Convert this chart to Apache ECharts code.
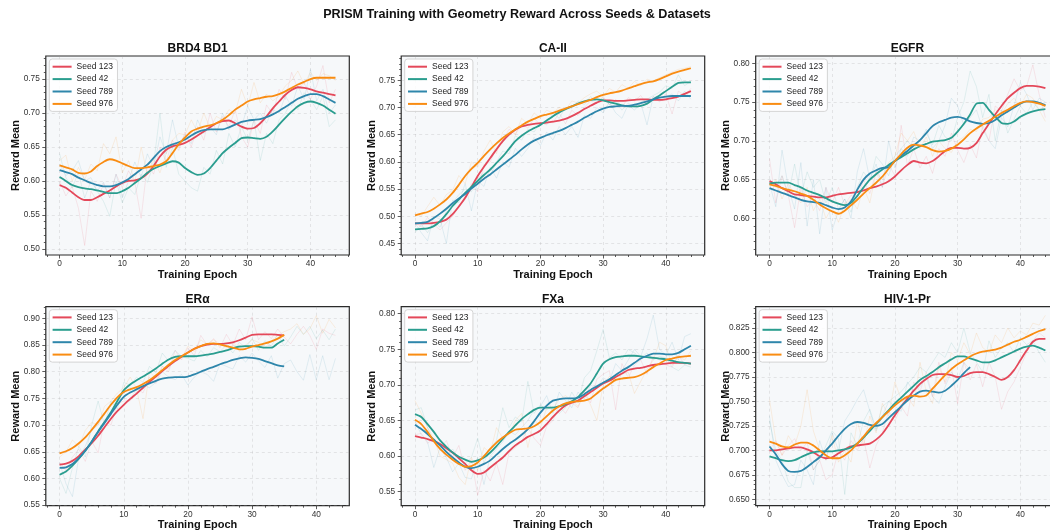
<!DOCTYPE html>
<html>
<head>
<meta charset="utf-8">
<script src="https://cdn.jsdelivr.net/npm/echarts@6/dist/echarts.min.js"></script>
<style>html,body{margin:0;padding:0;background:#fff}#chart{width:1050px;height:531px}</style>
</head>
<body>
<div id="chart"></div>
<script>
// ---------------- DATA ----------------
const mainTitle = 'PRISM Training with Geometry Reward Across Seeds & Datasets';
const seedNames = ['Seed 123', 'Seed 42', 'Seed 789', 'Seed 976'];
const panelTitles = ['BRD4 BD1', 'CA-II', 'EGFR', 'ERα', 'FXa', 'HIV-1-Pr'];
const xTicks = [0, 10, 20, 30, 40];
const brd4YTicks = [0.50, 0.55, 0.60, 0.65, 0.70, 0.75];
const ca2YTicks = [0.45, 0.50, 0.55, 0.60, 0.65, 0.70, 0.75];
const egfrYTicks = [0.60, 0.65, 0.70, 0.75, 0.80];
const eraYTicks = [0.55, 0.60, 0.65, 0.70, 0.75, 0.80, 0.85, 0.90];
const fxaYTicks = [0.55, 0.60, 0.65, 0.70, 0.75, 0.80];
const hivYTicks = [0.650, 0.675, 0.700, 0.725, 0.750, 0.775, 0.800, 0.825];

// BRD4 BD1
const brd4Smooth123 = [0.594,0.590,0.583,0.576,0.572,0.572,0.576,0.581,0.586,0.592,0.597,0.600,0.601,0.604,0.611,0.622,0.636,0.646,0.651,0.653,0.656,0.661,0.667,0.673,0.679,0.685,0.688,0.689,0.685,0.680,0.677,0.678,0.685,0.695,0.707,0.717,0.727,0.734,0.738,0.737,0.735,0.732,0.730,0.728,0.726];
const brd4Smooth42 = [0.606,0.600,0.594,0.591,0.589,0.588,0.586,0.584,0.582,0.582,0.585,0.590,0.597,0.604,0.612,0.618,0.622,0.626,0.629,0.627,0.619,0.613,0.609,0.611,0.619,0.630,0.641,0.649,0.656,0.663,0.664,0.663,0.662,0.665,0.673,0.683,0.693,0.702,0.710,0.715,0.717,0.715,0.711,0.705,0.699];
const brd4Smooth789 = [0.616,0.613,0.610,0.605,0.601,0.597,0.594,0.592,0.592,0.594,0.598,0.603,0.610,0.617,0.624,0.634,0.644,0.650,0.654,0.657,0.661,0.667,0.672,0.675,0.676,0.676,0.676,0.679,0.683,0.687,0.689,0.690,0.691,0.694,0.698,0.703,0.709,0.715,0.721,0.725,0.728,0.728,0.725,0.720,0.715];
const brd4Smooth976 = [0.623,0.620,0.617,0.612,0.611,0.614,0.622,0.628,0.632,0.630,0.626,0.622,0.619,0.619,0.620,0.622,0.624,0.629,0.641,0.654,0.664,0.673,0.677,0.680,0.682,0.685,0.690,0.697,0.705,0.711,0.717,0.720,0.722,0.724,0.725,0.728,0.732,0.737,0.742,0.746,0.750,0.752,0.752,0.752,0.752];
const brd4Raw123 = [0.600,0.578,0.592,0.560,0.505,0.585,0.570,0.596,0.575,0.610,0.590,0.615,0.598,0.545,0.625,0.610,0.650,0.628,0.660,0.645,0.672,0.650,0.680,0.660,0.700,0.672,0.695,0.680,0.705,0.665,0.650,0.690,0.670,0.712,0.698,0.735,0.720,0.760,0.735,0.745,0.720,0.740,0.770,0.715,0.735];
const brd4Raw42 = [0.640,0.605,0.590,0.612,0.575,0.600,0.585,0.570,0.548,0.600,0.568,0.590,0.580,0.610,0.598,0.625,0.700,0.620,0.650,0.610,0.600,0.590,0.585,0.620,0.610,0.645,0.625,0.670,0.650,0.680,0.660,0.690,0.630,0.670,0.655,0.690,0.700,0.718,0.705,0.730,0.720,0.705,0.725,0.680,0.690];
const brd4Raw789 = [0.625,0.608,0.615,0.630,0.600,0.605,0.585,0.598,0.575,0.610,0.575,0.600,0.628,0.605,0.640,0.620,0.665,0.640,0.690,0.650,0.668,0.655,0.690,0.670,0.680,0.668,0.700,0.675,0.690,0.680,0.710,0.690,0.700,0.685,0.705,0.700,0.725,0.710,0.740,0.720,0.764,0.718,0.735,0.700,0.712];
const brd4Raw976 = [0.630,0.638,0.600,0.620,0.602,0.625,0.615,0.655,0.640,0.665,0.612,0.630,0.598,0.650,0.610,0.632,0.612,0.640,0.660,0.670,0.668,0.690,0.672,0.700,0.678,0.695,0.690,0.705,0.700,0.735,0.710,0.745,0.715,0.728,0.718,0.725,0.740,0.748,0.762,0.742,0.760,0.748,0.758,0.755,0.748];

// CA-II
const ca2Smooth123 = [0.487,0.487,0.487,0.488,0.490,0.494,0.504,0.518,0.534,0.554,0.574,0.591,0.607,0.623,0.638,0.650,0.659,0.665,0.668,0.670,0.671,0.672,0.674,0.676,0.679,0.684,0.690,0.697,0.703,0.709,0.713,0.713,0.712,0.712,0.713,0.714,0.715,0.715,0.714,0.714,0.715,0.717,0.720,0.725,0.730];
const ca2Smooth42 = [0.476,0.477,0.478,0.482,0.491,0.504,0.519,0.531,0.543,0.554,0.565,0.576,0.586,0.598,0.610,0.624,0.638,0.648,0.656,0.662,0.668,0.676,0.684,0.691,0.697,0.702,0.707,0.711,0.714,0.715,0.713,0.710,0.707,0.704,0.702,0.702,0.703,0.707,0.715,0.722,0.730,0.738,0.745,0.746,0.746];
const ca2Smooth789 = [0.487,0.488,0.490,0.497,0.505,0.514,0.524,0.533,0.541,0.551,0.560,0.569,0.577,0.586,0.595,0.604,0.613,0.623,0.632,0.639,0.644,0.649,0.653,0.657,0.662,0.668,0.674,0.681,0.687,0.693,0.698,0.701,0.702,0.703,0.703,0.705,0.708,0.711,0.715,0.718,0.720,0.721,0.721,0.721,0.721];
const ca2Smooth976 = [0.502,0.505,0.508,0.514,0.522,0.531,0.543,0.558,0.574,0.587,0.598,0.611,0.623,0.634,0.644,0.652,0.660,0.667,0.674,0.679,0.684,0.687,0.690,0.694,0.698,0.702,0.706,0.710,0.714,0.719,0.723,0.726,0.728,0.731,0.735,0.739,0.743,0.746,0.748,0.752,0.757,0.762,0.766,0.769,0.772];
const ca2Raw123 = [0.490,0.480,0.498,0.485,0.475,0.488,0.500,0.520,0.530,0.560,0.545,0.595,0.600,0.625,0.640,0.660,0.650,0.670,0.662,0.680,0.668,0.675,0.672,0.690,0.670,0.695,0.685,0.700,0.712,0.708,0.720,0.705,0.715,0.700,0.718,0.712,0.722,0.705,0.720,0.710,0.725,0.688,0.730,0.722,0.735];
const ca2Raw42 = [0.470,0.485,0.470,0.490,0.480,0.510,0.525,0.540,0.550,0.545,0.570,0.580,0.575,0.600,0.620,0.615,0.648,0.640,0.660,0.655,0.672,0.668,0.690,0.680,0.700,0.698,0.712,0.705,0.720,0.710,0.718,0.705,0.712,0.695,0.708,0.700,0.710,0.715,0.722,0.728,0.740,0.735,0.760,0.740,0.748];
const ca2Raw789 = [0.488,0.470,0.455,0.500,0.495,0.450,0.530,0.525,0.560,0.510,0.565,0.555,0.590,0.570,0.600,0.590,0.625,0.610,0.625,0.645,0.630,0.655,0.640,0.665,0.650,0.665,0.645,0.685,0.680,0.700,0.690,0.710,0.690,0.680,0.705,0.695,0.708,0.668,0.720,0.712,0.718,0.725,0.712,0.730,0.715];
const ca2Raw976 = [0.505,0.500,0.518,0.535,0.520,0.540,0.548,0.575,0.560,0.600,0.590,0.620,0.640,0.615,0.655,0.665,0.650,0.680,0.670,0.690,0.680,0.695,0.690,0.700,0.695,0.712,0.708,0.718,0.725,0.730,0.720,0.735,0.728,0.742,0.735,0.748,0.740,0.752,0.748,0.755,0.760,0.765,0.770,0.772,0.775];

// EGFR
const egfrSmooth123 = [0.648,0.644,0.639,0.635,0.631,0.630,0.629,0.628,0.627,0.627,0.629,0.631,0.632,0.633,0.634,0.636,0.639,0.641,0.644,0.648,0.654,0.662,0.669,0.674,0.672,0.671,0.674,0.680,0.687,0.691,0.691,0.690,0.691,0.697,0.710,0.722,0.734,0.745,0.755,0.762,0.768,0.771,0.771,0.770,0.768];
const egfrSmooth42 = [0.645,0.646,0.646,0.646,0.643,0.640,0.636,0.633,0.630,0.626,0.622,0.619,0.617,0.620,0.629,0.640,0.650,0.657,0.663,0.669,0.674,0.679,0.684,0.689,0.693,0.696,0.699,0.700,0.701,0.704,0.712,0.722,0.734,0.748,0.749,0.740,0.731,0.723,0.722,0.725,0.731,0.735,0.738,0.740,0.741];
const egfrSmooth789 = [0.639,0.636,0.633,0.630,0.627,0.624,0.622,0.621,0.620,0.617,0.614,0.612,0.614,0.622,0.637,0.650,0.658,0.662,0.665,0.666,0.674,0.681,0.687,0.694,0.701,0.710,0.719,0.724,0.727,0.730,0.731,0.729,0.725,0.723,0.722,0.723,0.727,0.733,0.738,0.743,0.748,0.751,0.751,0.749,0.746];
const egfrSmooth976 = [0.644,0.642,0.639,0.637,0.635,0.632,0.629,0.624,0.618,0.613,0.609,0.606,0.610,0.617,0.624,0.632,0.639,0.646,0.654,0.664,0.674,0.683,0.691,0.695,0.694,0.692,0.688,0.686,0.687,0.690,0.695,0.702,0.710,0.716,0.721,0.726,0.731,0.736,0.740,0.745,0.749,0.751,0.750,0.748,0.745];
const egfrRaw123 = [0.677,0.620,0.655,0.630,0.588,0.640,0.615,0.625,0.610,0.640,0.620,0.640,0.618,0.630,0.625,0.650,0.632,0.660,0.640,0.670,0.655,0.720,0.668,0.690,0.665,0.680,0.658,0.690,0.680,0.710,0.688,0.672,0.695,0.678,0.720,0.700,0.745,0.738,0.760,0.780,0.765,0.770,0.798,0.760,0.730];
const egfrRaw42 = [0.650,0.640,0.655,0.630,0.670,0.628,0.660,0.640,0.650,0.620,0.640,0.612,0.625,0.608,0.640,0.660,0.648,0.680,0.670,0.655,0.680,0.690,0.700,0.690,0.700,0.710,0.695,0.720,0.705,0.700,0.730,0.750,0.790,0.770,0.730,0.760,0.700,0.740,0.710,0.728,0.745,0.735,0.750,0.740,0.745];
const egfrRaw789 = [0.645,0.615,0.688,0.640,0.612,0.672,0.590,0.650,0.580,0.640,0.585,0.610,0.625,0.600,0.660,0.690,0.650,0.670,0.640,0.700,0.665,0.690,0.680,0.705,0.700,0.715,0.690,0.700,0.720,0.755,0.745,0.720,0.730,0.740,0.715,0.700,0.690,0.730,0.718,0.745,0.775,0.760,0.740,0.755,0.750];
const egfrRaw976 = [0.640,0.650,0.625,0.645,0.630,0.620,0.640,0.610,0.625,0.600,0.615,0.595,0.618,0.625,0.612,0.640,0.620,0.660,0.650,0.672,0.680,0.710,0.700,0.712,0.690,0.705,0.680,0.700,0.690,0.685,0.700,0.705,0.715,0.712,0.728,0.730,0.740,0.735,0.748,0.755,0.745,0.760,0.755,0.740,0.725];

// ERα
const eraSmooth123 = [0.626,0.628,0.633,0.642,0.654,0.666,0.680,0.696,0.712,0.726,0.738,0.749,0.759,0.770,0.781,0.791,0.801,0.811,0.820,0.828,0.836,0.843,0.848,0.851,0.852,0.852,0.853,0.855,0.859,0.864,0.869,0.870,0.870,0.870,0.869,0.868];
const eraSmooth42 = [0.607,0.613,0.624,0.637,0.652,0.669,0.688,0.706,0.724,0.745,0.765,0.776,0.784,0.791,0.798,0.806,0.815,0.823,0.828,0.829,0.829,0.829,0.830,0.832,0.834,0.837,0.840,0.844,0.847,0.848,0.848,0.847,0.845,0.845,0.853,0.860];
const eraSmooth789 = [0.620,0.621,0.627,0.638,0.652,0.669,0.687,0.704,0.721,0.738,0.753,0.761,0.767,0.773,0.778,0.783,0.787,0.789,0.790,0.790,0.791,0.795,0.800,0.805,0.809,0.814,0.818,0.822,0.825,0.827,0.826,0.824,0.820,0.816,0.812,0.810];
const eraSmooth976 = [0.647,0.651,0.657,0.666,0.677,0.691,0.706,0.722,0.738,0.752,0.762,0.767,0.771,0.777,0.784,0.793,0.803,0.813,0.822,0.829,0.836,0.843,0.848,0.852,0.853,0.851,0.848,0.845,0.842,0.843,0.847,0.850,0.853,0.857,0.862,0.869];
const eraRaw123 = [0.630,0.615,0.640,0.655,0.632,0.670,0.648,0.710,0.700,0.740,0.745,0.745,0.770,0.760,0.790,0.778,0.810,0.800,0.840,0.822,0.845,0.830,0.868,0.850,0.862,0.845,0.870,0.850,0.880,0.860,0.903,0.860,0.875,0.862,0.880,0.865,0.852,0.870,0.885,0.868,0.842,0.880,0.872,0.868];
const eraRaw42 = [0.600,0.572,0.620,0.660,0.640,0.700,0.745,0.700,0.745,0.730,0.780,0.775,0.790,0.780,0.810,0.798,0.835,0.820,0.840,0.828,0.825,0.820,0.840,0.828,0.845,0.838,0.850,0.835,0.855,0.845,0.862,0.840,0.858,0.848,0.870,0.848,0.865,0.885,0.870,0.885,0.862,0.878,0.860,0.880];
const eraRaw789 = [0.630,0.590,0.566,0.640,0.660,0.690,0.700,0.720,0.740,0.750,0.760,0.770,0.760,0.775,0.770,0.780,0.800,0.790,0.785,0.795,0.775,0.790,0.800,0.795,0.782,0.815,0.810,0.805,0.830,0.818,0.835,0.820,0.808,0.830,0.788,0.815,0.822,0.800,0.784,0.832,0.785,0.830,0.785,0.825];
const eraRaw976 = [0.640,0.650,0.672,0.660,0.690,0.705,0.700,0.735,0.745,0.760,0.770,0.790,0.768,0.712,0.800,0.788,0.810,0.805,0.830,0.825,0.848,0.838,0.860,0.850,0.860,0.852,0.845,0.858,0.838,0.850,0.860,0.855,0.845,0.858,0.868,0.875,0.880,0.890,0.870,0.880,0.905,0.872,0.898,0.882];

// FXa
const fxaSmooth123 = [0.628,0.626,0.624,0.621,0.617,0.611,0.605,0.597,0.589,0.580,0.575,0.577,0.584,0.591,0.598,0.607,0.615,0.621,0.627,0.631,0.636,0.645,0.655,0.664,0.671,0.675,0.678,0.684,0.690,0.696,0.702,0.706,0.711,0.716,0.721,0.723,0.724,0.726,0.728,0.729,0.730,0.731,0.731,0.731,0.730];
const fxaSmooth42 = [0.659,0.655,0.645,0.634,0.622,0.613,0.605,0.599,0.595,0.592,0.594,0.598,0.605,0.614,0.624,0.634,0.643,0.652,0.659,0.665,0.668,0.668,0.668,0.670,0.673,0.677,0.683,0.692,0.702,0.716,0.730,0.736,0.739,0.740,0.741,0.741,0.740,0.739,0.738,0.737,0.736,0.734,0.732,0.731,0.730];
const fxaSmooth789 = [0.644,0.638,0.631,0.623,0.615,0.606,0.598,0.591,0.585,0.583,0.585,0.589,0.594,0.602,0.610,0.617,0.623,0.630,0.638,0.649,0.661,0.671,0.678,0.680,0.681,0.681,0.682,0.687,0.693,0.698,0.703,0.708,0.714,0.720,0.725,0.731,0.737,0.741,0.744,0.744,0.743,0.743,0.745,0.750,0.755];
const fxaSmooth976 = [0.651,0.645,0.634,0.621,0.610,0.602,0.595,0.589,0.585,0.586,0.591,0.600,0.610,0.619,0.626,0.632,0.637,0.638,0.639,0.642,0.648,0.656,0.664,0.670,0.674,0.676,0.677,0.678,0.681,0.688,0.695,0.701,0.707,0.709,0.710,0.711,0.714,0.719,0.725,0.730,0.735,0.737,0.739,0.740,0.741];
const fxaRaw123 = [0.630,0.632,0.618,0.625,0.610,0.622,0.598,0.615,0.580,0.595,0.545,0.580,0.565,0.590,0.560,0.605,0.612,0.620,0.640,0.625,0.615,0.642,0.650,0.670,0.660,0.675,0.668,0.690,0.675,0.708,0.715,0.720,0.665,0.730,0.710,0.728,0.735,0.715,0.740,0.735,0.728,0.725,0.742,0.728,0.732];
const fxaRaw42 = [0.665,0.668,0.640,0.620,0.612,0.600,0.610,0.595,0.590,0.598,0.625,0.590,0.612,0.622,0.668,0.640,0.655,0.648,0.705,0.660,0.672,0.665,0.670,0.660,0.668,0.690,0.675,0.710,0.720,0.748,0.778,0.738,0.745,0.735,0.750,0.745,0.738,0.745,0.735,0.740,0.738,0.725,0.720,0.728,0.725];
const fxaRaw789 = [0.650,0.630,0.620,0.584,0.612,0.598,0.578,0.590,0.570,0.568,0.598,0.560,0.600,0.610,0.620,0.635,0.630,0.640,0.650,0.665,0.670,0.685,0.660,0.690,0.678,0.668,0.690,0.680,0.700,0.695,0.710,0.705,0.730,0.720,0.735,0.750,0.740,0.765,0.798,0.750,0.742,0.760,0.735,0.768,0.772];
const fxaRaw976 = [0.678,0.660,0.640,0.625,0.600,0.595,0.590,0.570,0.560,0.598,0.580,0.612,0.605,0.640,0.625,0.630,0.650,0.660,0.612,0.652,0.640,0.668,0.665,0.680,0.685,0.678,0.670,0.688,0.672,0.650,0.700,0.712,0.705,0.715,0.718,0.688,0.705,0.722,0.735,0.760,0.755,0.728,0.740,0.735,0.748];

// HIV-1-Pr
const hivSmooth123 = [0.700,0.700,0.701,0.702,0.703,0.703,0.701,0.698,0.694,0.692,0.693,0.697,0.701,0.704,0.705,0.706,0.707,0.711,0.717,0.726,0.736,0.745,0.753,0.761,0.768,0.773,0.777,0.778,0.778,0.777,0.775,0.776,0.779,0.780,0.780,0.778,0.775,0.772,0.775,0.782,0.792,0.802,0.811,0.814,0.814];
const hivSmooth42 = [0.694,0.692,0.690,0.689,0.690,0.693,0.696,0.698,0.699,0.699,0.699,0.700,0.701,0.703,0.707,0.713,0.720,0.727,0.734,0.741,0.748,0.754,0.760,0.766,0.772,0.776,0.780,0.785,0.789,0.793,0.796,0.796,0.794,0.792,0.790,0.790,0.792,0.795,0.798,0.801,0.804,0.806,0.807,0.805,0.802];
const hivSmooth789 = [0.704,0.696,0.686,0.679,0.678,0.679,0.683,0.688,0.693,0.700,0.707,0.715,0.722,0.727,0.729,0.728,0.726,0.725,0.727,0.733,0.739,0.745,0.751,0.756,0.760,0.761,0.760,0.759,0.761,0.766,0.772,0.779,0.785];
const hivSmooth976 = [0.709,0.707,0.704,0.703,0.706,0.708,0.708,0.705,0.700,0.695,0.692,0.692,0.695,0.700,0.707,0.714,0.722,0.728,0.734,0.740,0.746,0.751,0.755,0.756,0.755,0.756,0.763,0.770,0.777,0.783,0.788,0.792,0.796,0.799,0.801,0.802,0.803,0.805,0.808,0.811,0.813,0.816,0.819,0.822,0.824];
const hivRaw123 = [0.700,0.710,0.695,0.705,0.712,0.700,0.708,0.680,0.690,0.670,0.675,0.700,0.690,0.710,0.700,0.712,0.682,0.705,0.718,0.740,0.730,0.745,0.735,0.770,0.760,0.780,0.755,0.790,0.768,0.785,0.748,0.790,0.772,0.788,0.765,0.790,0.775,0.742,0.760,0.770,0.785,0.800,0.812,0.820,0.815];
const hivRaw42 = [0.730,0.700,0.690,0.668,0.662,0.662,0.700,0.680,0.690,0.705,0.720,0.712,0.655,0.718,0.705,0.730,0.742,0.722,0.745,0.750,0.755,0.760,0.768,0.775,0.785,0.780,0.790,0.800,0.795,0.810,0.800,0.825,0.800,0.790,0.780,0.812,0.795,0.805,0.810,0.800,0.815,0.808,0.812,0.800,0.790];
const hivRaw789 = [0.735,0.690,0.675,0.663,0.665,0.690,0.680,0.665,0.710,0.690,0.718,0.700,0.730,0.740,0.752,0.762,0.740,0.720,0.735,0.750,0.745,0.740,0.770,0.760,0.765,0.775,0.755,0.748,0.765,0.780,0.772,0.790,0.782];
const hivRaw976 = [0.752,0.710,0.695,0.715,0.705,0.725,0.762,0.720,0.700,0.690,0.715,0.688,0.700,0.688,0.730,0.705,0.735,0.718,0.748,0.735,0.770,0.752,0.755,0.745,0.790,0.760,0.748,0.785,0.770,0.800,0.792,0.810,0.798,0.820,0.805,0.800,0.818,0.810,0.825,0.815,0.822,0.818,0.830,0.828,0.838];

// ---------------- LAYOUT / STYLE ----------------
const FONT = "'Liberation Sans', Arial, Helvetica, sans-serif";
const seedColors = ['#E4485A', '#2A9D8F', '#2E86AB', '#F98C12'];
const colLeft = [45.8, 401.2, 755.7];
const rowTop = [56, 306.7];
const plotW = 303.5, plotH = 199;

const panels = [
  { title: panelTitles[0], x: [-2.2, 46.2], y: [0.491, 0.784], yTicks: brd4YTicks, yStep: 0.05, dec: 2,
    smooth: [brd4Smooth123, brd4Smooth42, brd4Smooth789, brd4Smooth976], raw: [brd4Raw123, brd4Raw42, brd4Raw789, brd4Raw976] },
  { title: panelTitles[1], x: [-2.2, 46.2], y: [0.429, 0.7945], yTicks: ca2YTicks, yStep: 0.05, dec: 2,
    smooth: [ca2Smooth123, ca2Smooth42, ca2Smooth789, ca2Smooth976], raw: [ca2Raw123, ca2Raw42, ca2Raw789, ca2Raw976] },
  { title: panelTitles[2], x: [-2.2, 46.2], y: [0.5528, 0.8094], yTicks: egfrYTicks, yStep: 0.05, dec: 2,
    smooth: [egfrSmooth123, egfrSmooth42, egfrSmooth789, egfrSmooth976], raw: [egfrRaw123, egfrRaw42, egfrRaw789, egfrRaw976] },
  { title: panelTitles[3], x: [-2.15, 45.15], y: [0.549, 0.9218], yTicks: eraYTicks, yStep: 0.05, dec: 2,
    smooth: [eraSmooth123, eraSmooth42, eraSmooth789, eraSmooth976], raw: [eraRaw123, eraRaw42, eraRaw789, eraRaw976] },
  { title: panelTitles[4], x: [-2.2, 46.2], y: [0.5303, 0.8099], yTicks: fxaYTicks, yStep: 0.05, dec: 2,
    smooth: [fxaSmooth123, fxaSmooth42, fxaSmooth789, fxaSmooth976], raw: [fxaRaw123, fxaRaw42, fxaRaw789, fxaRaw976] },
  { title: panelTitles[5], x: [-2.2, 46.2], y: [0.6435, 0.8468], yTicks: hivYTicks, yStep: 0.025, dec: 3,
    smooth: [hivSmooth123, hivSmooth42, hivSmooth789, hivSmooth976], raw: [hivRaw123, hivRaw42, hivRaw789, hivRaw976] }
];

function minorVals(min, max, step) {
  const out = [];
  const k0 = Math.ceil(min / step - 1e-9);
  for (let k = k0; k * step <= max + 1e-9; k++) {
    if (k % 5 !== 0) out.push(+(k * step).toFixed(6));
  }
  return out;
}

const tickLine = { color: '#333', width: 0.8 };
const gridLine = { color: 'rgba(160,160,160,0.32)', width: 0.7, type: [3, 3] };
const noLine = { show: false, onZero: false };

const grids = [], xAxes = [], yAxes = [], series = [], legends = [], graphics = [];

panels.forEach((p, i) => {
  const col = i % 3, row = Math.floor(i / 3);
  const left = colLeft[col], top = rowTop[row];
  const gMain = grids.length;
  grids.push({ left: left, top: top, width: plotW, height: plotH, show: true,
    backgroundColor: '#F6F8FA', borderColor: '#2b2b2b', borderWidth: 1.2, outerBoundsMode: 'none', containLabel: false });
  const gMinor = grids.length;
  grids.push({ left: left, top: top, width: plotW, height: plotH, show: false, outerBoundsMode: 'none', containLabel: false });

  const xMain = xAxes.length;
  xAxes.push({ type: 'value', gridIndex: gMain, position: 'bottom', min: p.x[0], max: p.x[1], splitNumber: 5,
    axisLine: noLine,
    axisTick: { show: true, customValues: xTicks, length: 3.5, lineStyle: tickLine },
    axisLabel: { customValues: xTicks, fontSize: 8.3, color: '#333', margin: 5, fontFamily: FONT },
    splitLine: { show: true, lineStyle: gridLine },
    name: 'Training Epoch', nameLocation: 'middle', nameGap: 14, nameMoveOverlap: false,
    nameTextStyle: { fontSize: 11, fontWeight: 'bold', color: '#111', fontFamily: FONT } });
  xAxes.push({ type: 'value', gridIndex: gMinor, position: 'bottom', min: p.x[0], max: p.x[1],
    axisLine: noLine,
    axisTick: { show: true, customValues: minorVals(p.x[0], p.x[1], 2), length: 2, lineStyle: tickLine },
    axisLabel: { show: false }, splitLine: { show: false } });

  const yMain = yAxes.length;
  yAxes.push({ type: 'value', gridIndex: gMain, position: 'left', min: p.y[0], max: p.y[1],
    splitNumber: Math.round((p.y[1] - p.y[0]) / p.yStep),
    axisLine: noLine,
    axisTick: { show: true, customValues: p.yTicks, length: 3.5, lineStyle: tickLine },
    axisLabel: { customValues: p.yTicks, fontSize: 8.3, color: '#333', margin: 6, fontFamily: FONT,
      formatter: v => Number(v).toFixed(p.dec) },
    splitLine: { show: true, lineStyle: gridLine },
    name: 'Reward Mean', nameLocation: 'middle', nameGap: 24, nameMoveOverlap: false,
    nameTextStyle: { fontSize: 11, fontWeight: 'bold', color: '#111', fontFamily: FONT } });
  yAxes.push({ type: 'value', gridIndex: gMinor, position: 'left', min: p.y[0], max: p.y[1],
    axisLine: noLine,
    axisTick: { show: true, customValues: minorVals(p.y[0], p.y[1], p.yStep / 5), length: 2, lineStyle: tickLine },
    axisLabel: { show: false }, splitLine: { show: false } });

  // raw (faint) lines
  p.raw.forEach((arr, s) => {
    series.push({ type: 'line', xAxisIndex: xMain, yAxisIndex: yMain, silent: true,
      data: arr.map((v, e) => [e, v]), symbol: 'none', color: seedColors[s],
      lineStyle: { width: 0.8, opacity: 0.15, color: seedColors[s] }, z: 2 });
  });
  // smoothed lines
  p.smooth.forEach((arr, s) => {
    series.push({ type: 'line', name: seedNames[s], xAxisIndex: xMain, yAxisIndex: yMain,
      data: arr.map((v, e) => [e, v]), symbol: 'none', smooth: 0.25, color: seedColors[s],
      lineStyle: { width: 1.8, color: seedColors[s] }, z: 3 + s });
  });

  legends.push({ left: left + 3.5, top: top + 3, orient: 'vertical', data: seedNames, selectedMode: false,
    icon: 'rect', itemWidth: 19, itemHeight: 2, itemGap: 1.4,
    padding: [2.2, 4.5, 2, 3.3], backgroundColor: 'rgba(255,255,255,0.85)', borderColor: '#cccccc', borderWidth: 0.8, borderRadius: 3,
    textStyle: { fontSize: 8.5, lineHeight: 11, color: '#222', fontFamily: FONT } });

  graphics.push({ type: 'text', x: left + plotW / 2, y: top - 7.5, z: 10,
    style: { text: p.title, align: 'center', verticalAlign: 'middle', font: 'bold 12px ' + FONT, fill: '#111' } });
});

graphics.push({ type: 'text', x: 517, y: 15, z: 10,
  style: { text: mainTitle, align: 'center', verticalAlign: 'middle', font: 'bold 12.6px ' + FONT, fill: '#111' } });

const chart = echarts.init(document.getElementById('chart'), null, { renderer: 'canvas' });
chart.setOption({
  animation: false,
  backgroundColor: '#ffffff',
  textStyle: { fontFamily: FONT },
  grid: grids, xAxis: xAxes, yAxis: yAxes, series: series, legend: legends,
  graphic: { elements: graphics }
});
</script>
</body>
</html>
